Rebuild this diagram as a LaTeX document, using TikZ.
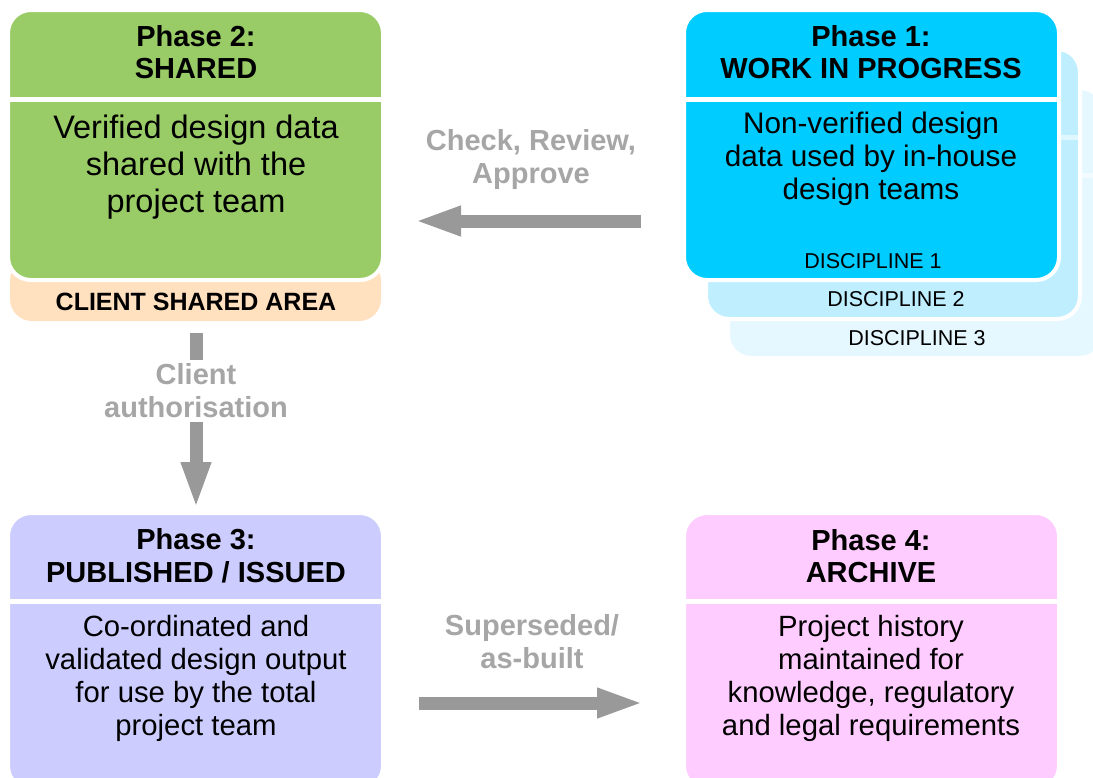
\documentclass[tikz,border=0pt]{standalone}
\usepackage{fontspec}
\setmainfont{Liberation Sans}
\usetikzlibrary{arrows.meta}
\definecolor{pgreen}{HTML}{99CC66}
\definecolor{ppeach}{HTML}{FFE0BF}
\definecolor{pcyan}{HTML}{00CCFF}
\definecolor{pcyanb}{HTML}{BFEFFF}
\definecolor{pcyanc}{HTML}{E6F8FF}
\definecolor{pblue}{HTML}{CCCCFF}
\definecolor{ppink}{HTML}{FFCCFF}
\definecolor{garrowc}{HTML}{999999}
\definecolor{glabel}{HTML}{A6A6A6}
\tikzset{
  phasebox/.style={rectangle, rounded corners=23pt, draw=white, line width=4pt,
    minimum width=375pt, minimum height=270pt, anchor=north west, inner sep=0pt, outer sep=0pt},
  sepline/.style={white, line width=5pt},
  titletext/.style={align=center, font=\fontsize{29}{32.5}\selectfont\bfseries, inner sep=0pt},
  labeltext/.style={align=center, text=glabel, font=\fontsize{29}{33}\selectfont\bfseries, inner sep=0pt},
  disctext/.style={font=\fontsize{21.5}{24}\selectfont, inner sep=0pt},
  garrow/.style={draw=garrowc, line width=13pt, -{Triangle[width=27pt,length=47pt]}},
}
\begin{document}
\begin{tikzpicture}[x=1pt,y=-1pt]
\useasboundingbox[fill=white] (0,0) rectangle (1093,777);

% ---------- Phase 2 ----------
\node[rectangle, rounded corners=22pt, fill=ppeach, minimum width=371pt, minimum height=62pt,
      anchor=south west, inner sep=0pt, outer sep=0pt] (csa) at (10,321) {};
\node[phasebox, fill=pgreen] (p2) at (8,10) {};
\draw[sepline] (p2.west |- 0,99.5) -- (p2.east |- 0,99.5);
\node[titletext] at (196,52) {Phase 2:\\SHARED};
\node[align=center, inner sep=0pt, font=\fontsize{32.5}{37}\selectfont] at (196,167) {Verified design data\\shared with the\\project team};
\node[inner sep=0pt, font=\fontsize{25}{28}\selectfont\bfseries] at (196,302) {CLIENT SHARED AREA};

% ---------- Phase 1 with disciplines ----------
\node[phasebox, fill=pcyanc] (d3) at (728,88) {};
\draw[white, opacity=0.5, line width=5pt] (d3.west |- 0,175) -- (d3.east |- 0,175);
\node[phasebox, fill=pcyanb, minimum width=374pt] (d2) at (706,49) {};
\draw[white, opacity=0.5, line width=5pt] (d2.west |- 0,137) -- (d2.east |- 0,137);
\node[phasebox, fill=pcyan] (p1) at (684,10) {};
\draw[sepline] (p1.west |- 0,99.5) -- (p1.east |- 0,99.5);
\node[titletext] at (871,52) {Phase 1:\\WORK IN PROGRESS};
\node[align=center, inner sep=0pt, font=\fontsize{29.7}{33}\selectfont] at (871,159) {Non-verified design\\data used by in-house\\design teams};
\node[disctext] at (873,261) {DISCIPLINE 1};
\node[disctext] at (896,299) {DISCIPLINE 2};
\node[disctext] at (917,338) {DISCIPLINE 3};

% ---------- Phase 3 ----------
\node[phasebox, fill=pblue, minimum height=276pt] (p3) at (8,513) {};
\draw[sepline] (p3.west |- 0,601) -- (p3.east |- 0,601);
\node[titletext] at (196,556) {Phase 3:\\PUBLISHED / ISSUED};
\node[align=center, inner sep=0pt, font=\fontsize{29.3}{33}\selectfont] at (196,678) {Co-ordinated and\\validated design output\\for use by the total\\project team};

% ---------- Phase 4 ----------
\node[phasebox, fill=ppink, minimum height=276pt] (p4) at (684,513) {};
\draw[sepline] (p4.west |- 0,601) -- (p4.east |- 0,601);
\node[titletext] at (871,556) {Phase 4:\\ARCHIVE};
\node[align=center, inner sep=0pt, font=\fontsize{29.3}{33}\selectfont] at (871,678) {Project history\\maintained for\\knowledge, regulatory\\and legal requirements};

% ---------- Connectors ----------
\draw[garrow, shorten <=43pt, shorten >=31pt] (p1.west |- 0,221) -- (p2.east |- 0,221);
\node[labeltext] at (531,159) {Check, Review,\\Approve};

\draw[garrow, shorten <=12pt, shorten >=4pt] (csa.south -| 196,0) -- (p3.north -| 196,0);
\node[labeltext, fill=white, inner ysep=4pt, inner xsep=2pt] at (196,391) {Client\\authorisation};

\draw[garrow, shorten <=36pt, shorten >=40pt] (p3.east |- 0,703) -- (p4.west |- 0,703);
\node[labeltext] at (532,642) {Superseded/\\as-built};
\end{tikzpicture}
\end{document}
